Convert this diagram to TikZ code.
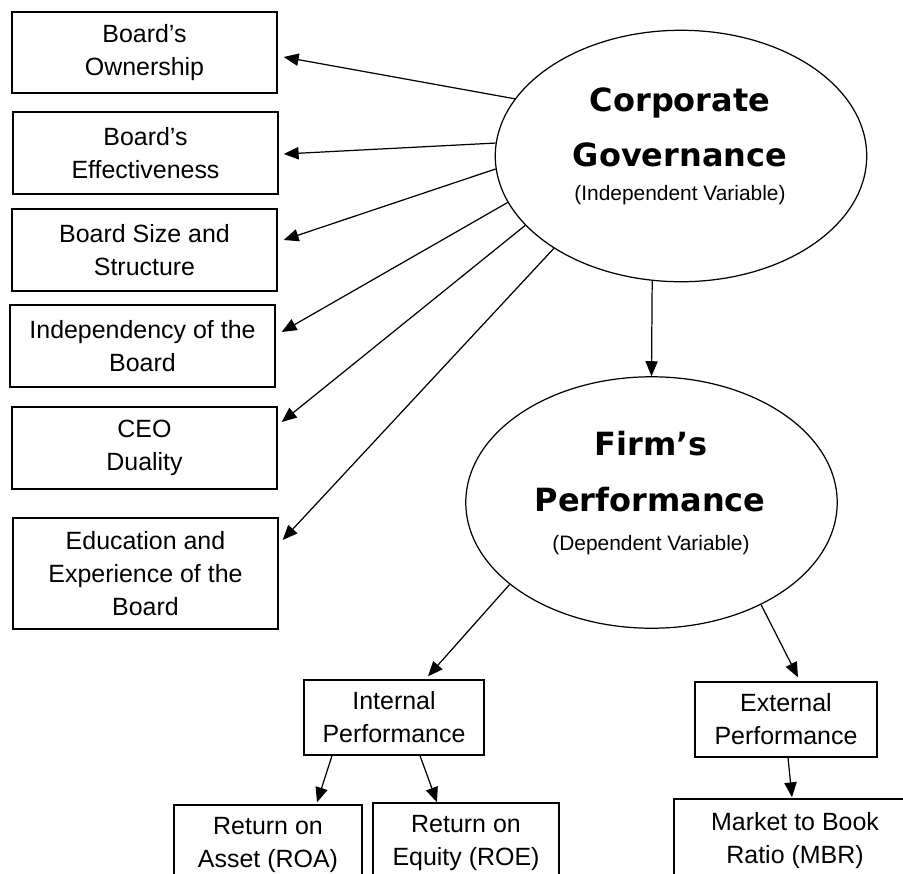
\documentclass[tikz,border=0pt]{standalone}
\usepackage{fontspec}
\setmainfont{Liberation Sans}
\newfontfamily\headfont{DejaVu Sans}
\usetikzlibrary{arrows.meta, shapes.geometric, calc}

\newcommand{\boxfont}{\fontsize{14.2pt}{18.8pt}\selectfont}
\newcommand{\titlefont}{\headfont\bfseries\fontsize{18.2pt}{22pt}\selectfont}
\newcommand{\varfont}{\fontsize{11.9pt}{14pt}\selectfont}

\tikzset{
	varbox/.style={draw, line width=0.8pt, align=center, inner sep=2pt, minimum width=5.3cm},
	perfbox/.style={draw, line width=0.8pt, align=center, inner sep=2pt},
	bigoval/.style={draw, ellipse, line width=0.7pt, inner sep=0pt, minimum width=7.43cm, minimum height=5.03cm},
	headtext/.style={anchor=base, inner sep=0pt, font=\titlefont},
	vartext/.style={anchor=base, inner sep=0pt, font=\varfont},
	link/.style={-{Triangle[length=8.5pt, width=7pt]}, line width=0.7pt}
}

\begin{document}
\begin{tikzpicture}[x=0.02cm, y=-0.02cm, font=\boxfont]
	\clip (0,0) rectangle (903,873);
	
	% the two variables
	\node[bigoval] (cg) at (681,156) {};
	\node[headtext] (cg1) at (680,111.5) {Corporate};
	\node[headtext] (cg2) at (680,166.5) {Governance};
	\node[vartext] (cg3) at (680,200.5) {(Independent Variable)};
	
	\node[bigoval] (fp) at (651.5,502.5) {};
	\node[headtext] (fp1) at (651,455.5) {Firm’s};
	\node[headtext] (fp2) at (650,511.5) {Performance};
	\node[vartext] (fp3) at (651,550.5) {(Dependent Variable)};
	
	\draw[link] (cg.257) -- (fp.north);
	
	% governance factors
	\foreach \n/\x/\y/\h/\a/\dx/\dy/\t in {
		b1/144.5/52.5/1.62/161.7/6/4.5/{Board’s\\Ownership},
		b2/145.5/153/1.64/176.6/5/1/{Board’s\\Effectiveness},
		b3/144.5/250/1.64/184.4/6/-10/{Board Size and\\Structure},
		b4/142.5/346/1.64/195.7/6/-14/{Independency of the\\Board},
		b5/144.5/448/1.64/204.8/4/-26/{CEO\\Duality},
		b6/145.5/573.5/2.22/216/4/-33.5/{Education and\\Experience of the\\Board}} {
		\node[varbox, minimum height=\h cm] (\n) at (\x,\y) {\t};
		\draw[link] (cg.\a) -- ($(\n.east)+(\dx,\dy)$);
	}
	
	% performance measures
	\node[perfbox, minimum width=3.6cm, minimum height=1.5cm] (ip) at (394,717.5) {Internal\\Performance};
	\node[perfbox, minimum width=3.64cm, minimum height=1.5cm] (ep) at (786,719.5) {External\\Performance};
	\node[perfbox, minimum width=3.76cm, minimum height=1.6cm] (roa) at (268,845) {Return on\\Asset (ROA)};
	\node[perfbox, minimum width=3.72cm, minimum height=1.6cm] (roe) at (466,843) {Return on\\Equity (ROE)};
	\node[perfbox, minimum width=4.84cm, minimum height=1.66cm] (mbr) at (795,840.5) {Market to Book\\Ratio (MBR)};
	
	\draw[link] (fp.210.5) -- ($(ip.north)+(34,-3)$);
	\draw[link] (fp.317.7) -- ($(ep.north)+(12,-4)$);
	\draw[link] ($(ip.south)+(-62,0)$) -- ($(roa.north)+(49,-2)$);
	\draw[link] ($(ip.south)+(26,0)$) -- ($(roe.north)+(-29,0)$);
	\draw[link] ($(ep.south)+(2,0)$) -- ($(mbr.north)+(-3,-1)$);
\end{tikzpicture}
\end{document}
